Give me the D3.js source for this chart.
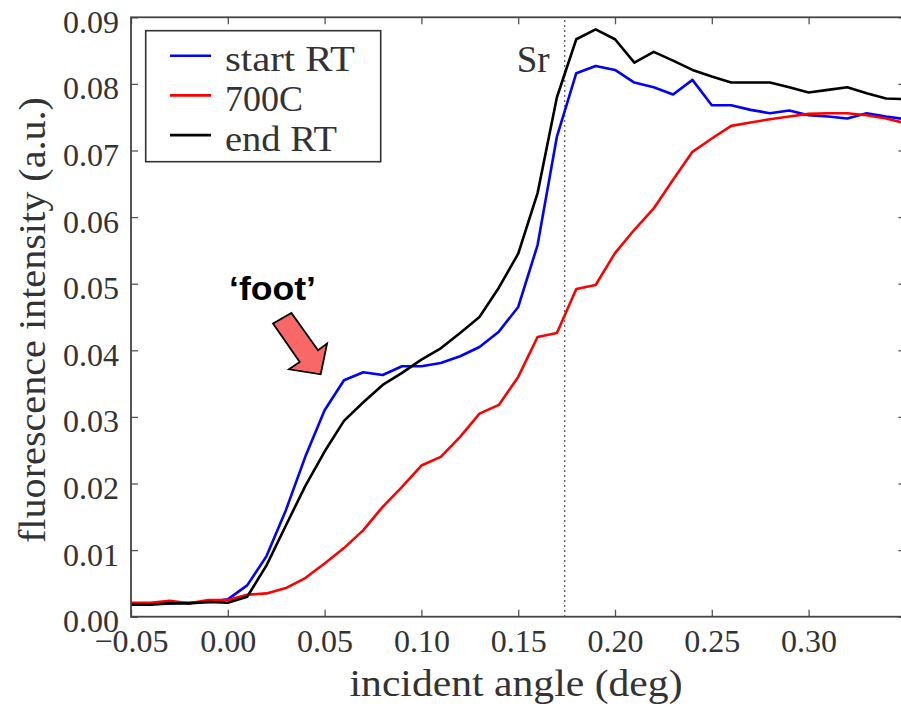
<!DOCTYPE html>
<html>
<head>
<meta charset="UTF-8">
<title>Fluorescence vs incident angle</title>
<script src="https://cdn.jsdelivr.net/npm/d3@7"></script>
<style>
  body { margin: 0; background: #fff; }
  svg { display: block; }
</style>
</head>
<body>
<script>
  // incident angle (deg), one point per 0.01
  const angles = [-0.05, -0.04, -0.03, -0.02, -0.01, 0.00, 0.01, 0.02, 0.03, 0.04,
    0.05, 0.06, 0.07, 0.08, 0.09, 0.10, 0.11, 0.12, 0.13, 0.14,
    0.15, 0.16, 0.17, 0.18, 0.19, 0.20, 0.21, 0.22, 0.23, 0.24,
    0.25, 0.26, 0.27, 0.28, 0.29, 0.30, 0.31, 0.32, 0.33, 0.34, 0.35];

  // fluorescence intensity (a.u.)
  const startRT = [0.0020, 0.0019, 0.0020, 0.0021, 0.0022, 0.0026, 0.0047, 0.0091, 0.0160, 0.0240,
    0.0310, 0.0355, 0.0367, 0.0363, 0.0376, 0.0376, 0.0381, 0.0391, 0.0405, 0.0428,
    0.0465, 0.0558, 0.0721, 0.0816, 0.0827, 0.0821, 0.0802, 0.0795, 0.0784, 0.0806,
    0.0768, 0.0768, 0.0761, 0.0756, 0.0760, 0.0753, 0.0751, 0.0748, 0.0756, 0.0751, 0.0747];

  const c700 = [0.0021, 0.0021, 0.0024, 0.0020, 0.0025, 0.0025, 0.0033, 0.0035, 0.0043, 0.0058,
    0.0080, 0.0103, 0.0130, 0.0165, 0.0195, 0.0227, 0.0240, 0.0270, 0.0305, 0.0318,
    0.0360, 0.0420, 0.0426, 0.0492, 0.0498, 0.0546, 0.0581, 0.0613, 0.0656, 0.0698,
    0.0718, 0.0737, 0.0742, 0.0747, 0.0751, 0.0755, 0.0756, 0.0756, 0.0753, 0.0748, 0.0741];

  const endRT = [0.0018, 0.0018, 0.0020, 0.0020, 0.0022, 0.0021, 0.0030, 0.0077, 0.0137, 0.0196,
    0.0248, 0.0294, 0.0322, 0.0348, 0.0366, 0.0386, 0.0403, 0.0426, 0.0450, 0.0494,
    0.0545, 0.0636, 0.0780, 0.0867, 0.0882, 0.0867, 0.0832, 0.0848, 0.0835, 0.0821,
    0.0811, 0.0802, 0.0802, 0.0802, 0.0795, 0.0787, 0.0791, 0.0795, 0.0786, 0.0778, 0.0777];

  const seriesNames = ["start RT", "700C", "end RT"];
  const seriesColors = ["#0000ff", "#ff0000", "#000000"];
  const xTicks = [-0.05, 0.00, 0.05, 0.10, 0.15, 0.20, 0.25, 0.30];
  const yTicks = [0.00, 0.01, 0.02, 0.03, 0.04, 0.05, 0.06, 0.07, 0.08, 0.09];

  const srAngle = 0.174;          // Sr edge marker
  const footTip = [0.048, 0.0364]; // where the 'foot' arrow points

  const w = 901, h = 708;
  const padL = 131, padR = 905.4, padT = 17.3, padB = 616.7;

  const x = d3.scaleLinear().domain([-0.05, 0.35]).range([padL, padR]);
  const y = d3.scaleLinear().domain([0, 0.09]).range([padB, padT]);

  const svg = d3.select("body").append("svg")
    .attr("width", w)
    .attr("height", h);

  const serif = "'Liberation Serif', 'Times New Roman', serif";
  const ink = "#333";

  // dotted Sr line
  svg.append("line")
    .attr("x1", x(srAngle)).attr("x2", x(srAngle))
    .attr("y1", padB).attr("y2", padT)
    .attr("stroke", "#333")
    .attr("stroke-width", 1.4)
    .attr("stroke-dasharray", "1.5,3.5");

  svg.append("text")
    .attr("x", x(srAngle) - 15)
    .attr("y", 72)
    .attr("text-anchor", "end")
    .style("font-family", serif)
    .style("font-size", "37px")
    .attr("fill", ink)
    .text("Sr");

  // curves
  const series = [startRT, c700, endRT];
  const line = d3.line()
    .x((d, i) => x(angles[i]))
    .y(d => y(d));

  series.forEach((vals, k) => {
    svg.append("path")
      .datum(vals)
      .attr("fill", "none")
      .attr("stroke", seriesColors[k])
      .attr("stroke-width", 2.6)
      .attr("stroke-linejoin", "round")
      .attr("d", line);
  });

  // axes, ticks pointing inward on all four sides
  const gx = svg.append("g")
    .attr("transform", "translate(0," + padB + ")")
    .call(d3.axisBottom(x).tickValues(xTicks).tickSize(-7).tickFormat(d3.format(".2f")));
  gx.selectAll("text")
    .attr("y", 35).attr("dy", null)
    .style("font-family", serif).style("font-size", "32px").attr("fill", ink);

  svg.append("g")
    .attr("transform", "translate(0," + padT + ")")
    .call(d3.axisTop(x).tickValues(xTicks).tickSize(-7).tickFormat(""));

  const gy = svg.append("g")
    .attr("transform", "translate(" + padL + ",0)")
    .call(d3.axisLeft(y).tickValues(yTicks).tickSize(-7).tickFormat(d3.format(".2f")));
  gy.selectAll("text")
    .attr("x", -12).attr("dy", null).attr("y", 15)
    .style("font-family", serif).style("font-size", "32px").attr("fill", ink);

  svg.append("g")
    .attr("transform", "translate(" + padR + ",0)")
    .call(d3.axisRight(y).tickValues(yTicks).tickSize(-7).tickFormat(""));

  svg.selectAll(".domain").remove();
  svg.selectAll(".tick line").attr("stroke", "#555").attr("stroke-width", 1.3);

  svg.append("rect")
    .attr("x", padL).attr("y", padT)
    .attr("width", padR - padL).attr("height", padB - padT)
    .attr("fill", "none")
    .attr("stroke", "#444")
    .attr("stroke-width", 1.8);

  // axis titles
  svg.append("text")
    .attr("x", 516).attr("y", 696)
    .attr("text-anchor", "middle")
    .attr("textLength", 333).attr("lengthAdjust", "spacingAndGlyphs")
    .style("font-family", serif).style("font-size", "37px")
    .attr("fill", ink)
    .text("incident angle (deg)");

  svg.append("text")
    .attr("transform", "translate(45,320) rotate(-90)")
    .attr("text-anchor", "middle")
    .attr("textLength", 446).attr("lengthAdjust", "spacingAndGlyphs")
    .style("font-family", serif).style("font-size", "37px")
    .attr("fill", ink)
    .text("fluorescence intensity (a.u.)");

  // legend
  const legend = svg.append("g");
  legend.append("rect")
    .attr("x", 145.7).attr("y", 30.7)
    .attr("width", 235).attr("height", 131)
    .attr("fill", "#fff")
    .attr("stroke", "#333")
    .attr("stroke-width", 1.6);

  const legendWidths = [130, 78, 112];
  seriesNames.forEach((name, k) => {
    const ly = 55.7 + k * 39.7;
    legend.append("line")
      .attr("x1", 170).attr("x2", 211)
      .attr("y1", ly).attr("y2", ly)
      .attr("stroke", seriesColors[k])
      .attr("stroke-width", 2.6);
    legend.append("text")
      .attr("x", 225).attr("y", ly + 15.5)
      .attr("textLength", legendWidths[k]).attr("lengthAdjust", "spacingAndGlyphs")
      .style("font-family", serif).style("font-size", "35px")
      .attr("fill", ink)
      .text(name);
  });

  // 'foot' annotation with block arrow
  const tx = x(footTip[0]), ty = y(footTip[1]);
  const arrow = [[-47.7, -50.7], [-29.3, -61.3], [-2.7, -24], [6.3, -30.7], [0, 0], [-31.7, -5], [-21, -12.3]];
  svg.append("polygon")
    .attr("points", arrow.map(p => (tx + p[0]) + "," + (ty + p[1])).join(" "))
    .attr("fill", "#f86866")
    .attr("stroke", "#000")
    .attr("stroke-width", 1.8)
    .attr("stroke-linejoin", "miter");

  svg.append("text")
    .attr("x", 229).attr("y", 300)
    .attr("textLength", 87).attr("lengthAdjust", "spacingAndGlyphs")
    .style("font-family", "'Liberation Sans', Arial, sans-serif")
    .style("font-size", "34px")
    .style("font-weight", "bold")
    .attr("fill", "#000")
    .text("\u2018foot\u2019");
</script>
</body>
</html>
